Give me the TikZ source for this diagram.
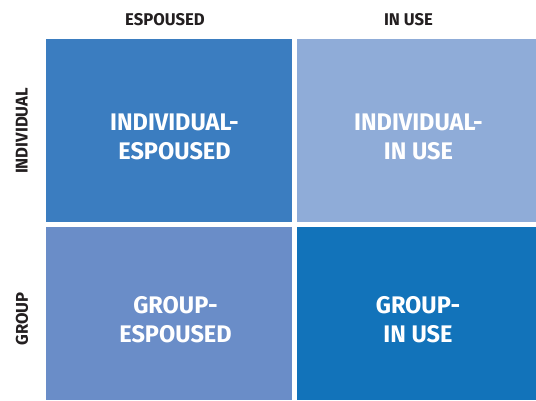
\documentclass[tikz,border=0pt]{standalone}
\usepackage{fontspec}
\setmainfont{Fira Sans}[FakeStretch=0.98]
\definecolor{indesp}{HTML}{3B7DC0}
\definecolor{induse}{HTML}{8FACD8}
\definecolor{grpesp}{HTML}{6A8DC8}
\definecolor{grpuse}{HTML}{1273BA}
\definecolor{headtext}{HTML}{231F20}
\tikzset{
    cell/.style={anchor=north west, inner sep=0pt, outer sep=0pt},
    celltext/.style={text=white, font=\bfseries\fontsize{24}{29}\selectfont, align=center},
    heading/.style={text=headtext, font=\bfseries\fontsize{17}{20}\selectfont}
}
\begin{document}
\begin{tikzpicture}[x=1pt, y=-1pt]
    \useasboundingbox (0,0) rectangle (536,400);
    % Four quadrants
    \node[cell, fill=indesp, minimum width=246pt, minimum height=183pt] (indesp) at (46,39) {};
    \node[cell, fill=induse, minimum width=239pt, minimum height=183pt] (induse) at (297,39) {};
    \node[cell, fill=grpesp, minimum width=246pt, minimum height=173pt] (grpesp) at (46,227) {};
    \node[cell, fill=grpuse, minimum width=239pt, minimum height=173pt] (grpuse) at (297,227) {};
    
    % Quadrant texts
    \node[celltext] (indesptext) at (174.5,137) {INDIVIDUAL-\\ESPOUSED};
    \node[celltext] (indusetext) at (418.5,137) {INDIVIDUAL-\\IN USE};
    \node[celltext] (grpesptext) at (175.5,319.5) {GROUP-\\ESPOUSED};
    \node[celltext] (grpusetext) at (418,319.5) {GROUP-\\IN USE};
    
    % Column headings
    \node[heading] (espoused) at (165,20) {ESPOUSED};
    \node[heading] (inuse) at (408.5,20) {IN USE};
    
    % Row headings
    \node[heading, rotate=90] (individual) at (22,131) {INDIVIDUAL};
    \node[heading, rotate=90] (group) at (22,319) {GROUP};
\end{tikzpicture}
\end{document}
